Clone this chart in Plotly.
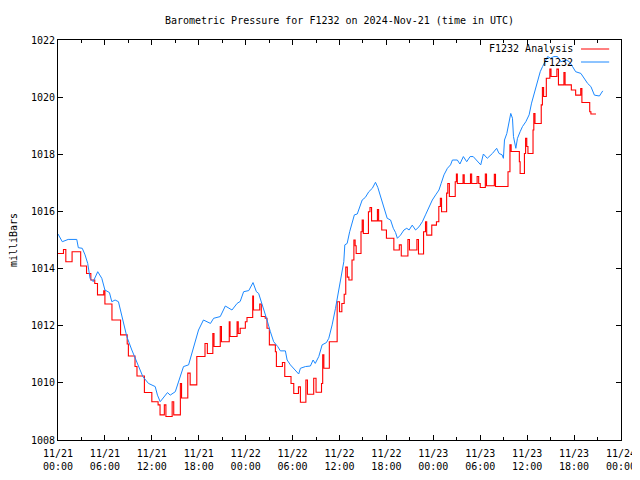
import pandas as pd
import plotly.graph_objects as go

# ---- data (hours after 2024-11-21 00:00 UTC, pressure in mb) ----
start = "2024-11-21 00:00"

obs_hours = [0.0, 0.55, 1.3, 2.4, 2.6, 3.1, 3.46, 3.8, 4.1, 4.5, 5.08, 5.6, 6.0, 6.58, 6.88, 7.3,
             7.73, 8.16, 8.8, 9.44, 10.08, 10.85, 11.57, 12.43, 12.72, 13.07, 14.0, 14.35, 15.0,
             15.4, 16.05, 16.7, 17.34, 17.97, 18.6, 19.5, 19.9, 20.75, 21.4, 22.25, 22.9, 23.3,
             23.74, 24.4, 24.94, 25.37, 25.66, 26.0, 26.4, 26.73, 27.16, 27.58, 28.1, 28.44,
             29.08, 29.3, 29.72, 30.15, 30.78, 31.0, 31.64, 32.28, 32.62, 32.9, 33.35, 33.78,
             34.33, 34.63, 35.06, 35.49, 35.9, 36.2, 36.55, 36.68, 36.98, 37.3, 37.6, 37.9,
             38.27, 38.6, 38.9, 39.3, 39.75, 40.2, 40.6, 40.9, 41.25, 41.6, 41.9, 42.1, 42.53,
             42.88, 43.17, 43.4, 43.8, 44.24, 44.6, 44.9, 45.3, 45.73, 46.16, 46.6, 47.0, 47.44,
             47.87, 48.3, 48.72, 49.0, 49.36, 49.8, 50.2, 50.44, 51.07, 51.4, 51.84, 52.27,
             52.7, 53.1, 53.5, 54.06, 54.4, 54.9, 55.56, 56.1, 56.4, 56.8, 56.96, 57.1, 57.4,
             57.7, 57.9, 58.12, 58.25, 58.55, 58.76, 59.1, 59.4, 59.83, 60.25, 60.56, 60.9,
             61.33, 61.67, 61.97, 62.3, 62.62, 63.0, 63.4, 63.87, 64.3, 65.0, 65.4, 65.8, 66.2,
             66.87, 67.3, 67.73, 68.15, 68.6, 69.24, 69.67]
obs_mb = [1015.21, 1014.94, 1015.02, 1015.02, 1014.73, 1014.71, 1014.48, 1014.18, 1013.66,
          1013.54, 1013.89, 1013.66, 1013.25, 1013.16, 1012.84, 1012.9, 1012.84, 1012.38,
          1011.62, 1011.15, 1010.74, 1010.22, 1009.98, 1009.87, 1009.57, 1009.34, 1009.66,
          1009.57, 1009.69, 1010.04, 1010.57, 1010.63, 1011.21, 1011.85, 1012.2, 1012.08,
          1012.26, 1012.32, 1012.69, 1012.55, 1012.78, 1012.85, 1013.19, 1013.23, 1013.51,
          1013.19, 1013.13, 1012.84, 1012.55, 1012.2, 1011.79, 1011.44, 1011.27, 1011.12,
          1011.12, 1010.8, 1010.63, 1010.51, 1010.31, 1010.51, 1010.57, 1010.59, 1010.8,
          1010.68, 1010.92, 1011.33, 1011.41, 1011.56, 1012.03, 1012.61, 1013.3, 1013.78,
          1014.24, 1014.83, 1014.88, 1015.29, 1015.64, 1015.88, 1015.91, 1016.17, 1016.4,
          1016.49, 1016.69, 1016.81, 1017.02, 1016.84, 1016.52, 1016.23, 1015.88, 1015.76,
          1015.7, 1015.41, 1015.26, 1015.06, 1015.17, 1015.35, 1015.41, 1015.35, 1015.52,
          1015.35, 1015.46, 1015.64, 1015.88, 1016.17, 1016.4, 1016.58, 1016.75, 1016.98,
          1017.28, 1017.51, 1017.63, 1017.8, 1017.8, 1017.66, 1017.92, 1017.74, 1017.92,
          1017.92, 1017.8, 1017.63, 1018.01, 1017.86, 1018.03, 1018.21, 1018.03, 1017.98,
          1017.86, 1018.5, 1018.73, 1019.2, 1019.43, 1019.26, 1018.62, 1018.21, 1018.56,
          1018.79, 1018.97, 1019.14, 1019.38, 1019.79, 1020.13, 1020.6, 1020.89, 1021.07,
          1021.24, 1021.42, 1021.36, 1021.42, 1021.42, 1021.24, 1021.3, 1021.24, 1021.07,
          1020.89, 1020.83, 1020.66, 1020.48, 1020.37, 1020.07, 1020.04, 1020.22]

ana_hours = [0.0, 0.7, 1.0, 1.8, 2.9, 3.65, 4.2, 4.7, 5.05, 5.85, 6.0, 6.9, 8.0, 8.85, 9.0,
             9.85, 10.1, 11.05, 12.0, 12.8, 13.05, 13.6, 13.8, 14.6, 14.8, 15.65, 15.8, 16.6,
             16.9, 17.75, 18.8, 19.1, 19.8, 19.95, 20.75, 20.9, 21.9, 22.0, 22.9, 23.05, 23.3,
             23.96, 24.17, 24.9, 25.0, 25.8, 26.0, 26.5, 26.73, 27.03, 27.8, 27.93, 28.7, 29.0,
             29.8, 30.15, 30.75, 31.0, 31.7, 31.9, 32.7, 33.0, 33.7, 33.85, 34.0, 34.7, 35.7,
             36.0, 36.3, 36.6, 36.8, 37.0, 37.2, 37.6, 37.84, 38.0, 38.13, 38.75, 38.9, 39.05,
             39.7, 39.9, 40.1, 40.85, 41.0, 41.4, 42.0, 42.95, 43.65, 43.9, 44.75, 44.95, 45.9,
             46.1, 46.75, 47.0, 47.15, 47.8, 48.4, 48.7, 48.9, 49.05, 49.7, 49.85, 50.05, 50.8,
             50.95, 51.07, 51.8, 51.95, 52.75, 52.9, 53.6, 53.8, 54.0, 54.65, 54.8, 55.8, 55.95,
             57.55, 57.8, 57.95, 59.0, 59.1, 59.65, 59.8, 59.95, 60.1, 60.75, 60.85, 61.0, 61.8,
             61.95, 62.1, 62.45, 62.9, 63.05, 63.8, 64.0, 64.7, 64.85, 65.65, 66.2, 66.85, 67.0,
             68.0, 68.15, 68.8]
ana_mb = [1014.53, 1014.67, 1014.24, 1014.59, 1014.09, 1013.83, 1013.6, 1013.48, 1013.08,
          1013.22, 1012.76, 1012.2, 1011.68, 1011.36, 1010.94, 1010.57, 1010.24, 1009.66,
          1009.34, 1009.23, 1008.88, 1009.23, 1008.82, 1009.34, 1008.88, 1009.98, 1009.47,
          1010.34, 1009.93, 1010.92, 1011.38, 1011.03, 1011.73, 1011.27, 1011.97, 1011.44,
          1012.14, 1011.62, 1012.14, 1011.73, 1011.91, 1012.14, 1012.29, 1013.04, 1012.55,
          1012.76, 1012.32, 1012.26, 1011.91, 1011.33, 1011.09, 1010.57, 1010.71, 1010.22,
          1009.98, 1009.63, 1009.86, 1009.32, 1010.1, 1009.6, 1010.16, 1009.67, 1009.98,
          1010.98, 1010.51, 1011.44, 1012.84, 1012.49, 1012.78, 1013.1, 1014.05, 1013.7,
          1013.6, 1014.3, 1015.0, 1014.8, 1014.53, 1015.29, 1015.7, 1015.23, 1015.99, 1016.14,
          1015.67, 1016.07, 1015.67, 1015.35, 1015.06, 1014.65, 1014.83, 1014.44, 1015.02,
          1014.65, 1015.02, 1014.51, 1015.29, 1015.64, 1015.17, 1015.52, 1015.64, 1016.17,
          1016.46, 1015.99, 1016.64, 1016.98, 1016.52, 1017.04, 1017.31, 1016.98, 1017.28,
          1016.98, 1017.31, 1016.98, 1017.22, 1016.98, 1016.84, 1017.31, 1016.9, 1017.3,
          1016.87, 1017.39, 1018.33, 1018.1, 1017.74, 1017.33, 1018.03, 1018.56, 1018.27,
          1018.03, 1018.85, 1019.43, 1019.08, 1019.73, 1020.34, 1020.02, 1020.66, 1020.98,
          1020.72, 1020.98, 1020.43, 1020.86, 1020.43, 1020.25, 1020.07, 1020.3, 1019.81,
          1019.49, 1019.41, 1019.41]

series_names = ["F1232 Analysis", "F1232"]
series_colors = ["#ff0000", "#1a88ff"]
title_text = "Barometric Pressure for F1232 on 2024-Nov-21 (time in UTC)"
y_title = "milliBars"
x_range = ["2024-11-21 00:00", "2024-11-24 00:00"]
y_range = [1008, 1022]

t0 = pd.Timestamp(start)
ana_t = [t0 + pd.Timedelta(hours=h) for h in ana_hours]
obs_t = [t0 + pd.Timedelta(hours=h) for h in obs_hours]

FONT = "DejaVu Sans Mono"
W, H = 632, 472  # page body has an 8px default margin

fig = go.Figure()
fig.add_trace(go.Scatter(x=ana_t, y=ana_mb, mode="lines", name=series_names[0],
                         line=dict(color=series_colors[0], width=1.1, shape="hv")))
fig.add_trace(go.Scatter(x=obs_t, y=obs_mb, mode="lines", name=series_names[1],
                         line=dict(color=series_colors[1], width=1)))

# gnuplot-style key: text to the left of the line sample
key_rows = [0.9775, 0.945]
for name, color, yy in zip(series_names, series_colors, key_rows):
    fig.add_annotation(x=0.918, y=yy, xref="paper", yref="paper", text=name,
                       showarrow=False, xanchor="right", yanchor="middle",
                       font=dict(family=FONT, size=10, color="black"))
    fig.add_shape(type="line", xref="paper", yref="paper", x0=0.929, x1=0.979,
                  y0=yy, y1=yy, line=dict(color=color, width=1))

fig.update_layout(
    width=W, height=H,
    margin=dict(l=50, r=19, t=32, b=40, autoexpand=False),
    plot_bgcolor="white", paper_bgcolor="white",
    showlegend=False,
    font=dict(family=FONT, size=10, color="black"),
    title=dict(text=title_text, x=0.5, xref="paper", xanchor="center",
               y=1 - 12 / H, yref="container", yanchor="middle",
               font=dict(family=FONT, size=10, color="black")),
)
fig.update_xaxes(
    type="date", range=x_range, dtick=6 * 3600 * 1000, tick0=x_range[0],
    tickformat="%m/%d<br>%H:%M", ticks="inside", ticklen=5, tickcolor="black",
    ticklabelstandoff=4,
    showline=True, linecolor="black", linewidth=1, mirror="ticks", showgrid=False,
    zeroline=False, automargin=False,
    minor=dict(ticks="inside", ticklen=3, dtick=3 * 3600 * 1000, tickcolor="black",
               showgrid=False),
)
fig.update_yaxes(
    range=y_range, dtick=2, tick0=1008, ticks="inside", ticklen=5, tickcolor="black",
    showline=True, linecolor="black", linewidth=1, mirror="ticks", showgrid=False,
    zeroline=False, automargin=False,
    title=dict(text=y_title, standoff=15, font=dict(family=FONT, size=10)),
)

fig.write_html("out.html")
